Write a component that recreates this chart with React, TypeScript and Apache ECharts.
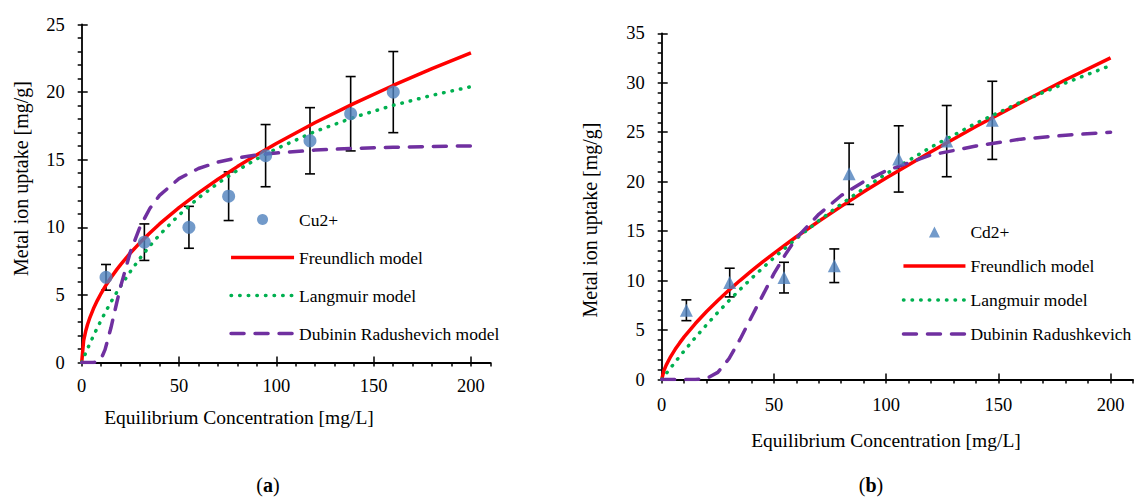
import React, { useEffect, useRef } from "react";
import * as echarts from "echarts";

// ---------- Data (a) Cu2+ ----------
const cuX = [12.5, 32.2, 55.1, 75.5, 94.5, 117.3, 138.2, 160.1];
const cuY = [6.3, 8.9, 10.0, 12.3, 15.3, 16.4, 18.4, 20.0];
const cuErr = [0.95, 1.35, 1.55, 1.8, 2.3, 2.45, 2.75, 3.0];

const cuModelX = [0, 1, 2, 3, 4, 6, 8, 10, 12, 15, 18, 20, 25, 30, 35, 40, 50, 60, 70, 80, 90, 100, 120, 140, 160, 180, 200];
const cuFreundlich = [0, 1.62, 2.29, 2.81, 3.24, 3.97, 4.58, 5.12, 5.61, 6.27, 6.87, 7.24, 8.1, 8.87, 9.58, 10.25, 11.46, 12.55, 13.55, 14.49, 15.37, 16.2, 17.75, 19.17, 20.49, 21.73, 22.91];
const cuLangmuir = [0, 0.35, 0.69, 1.02, 1.34, 1.97, 2.56, 3.13, 3.68, 4.46, 5.19, 5.65, 6.73, 7.72, 8.62, 9.44, 10.91, 12.17, 13.26, 14.21, 15.06, 15.81, 17.09, 18.14, 19.02, 19.76, 20.4];
const cuDR = [0, 0, 0, 0, 0, 0, 0.03, 0.29, 0.95, 2.55, 4.42, 5.62, 8.18, 10.04, 11.39, 12.36, 13.6, 14.35, 14.82, 15.13, 15.35, 15.5, 15.71, 15.84, 15.92, 15.98, 16.02];

// ---------- Data (b) Cd2+ ----------
const cdX = [11, 30.3, 54.5, 76.9, 83.5, 105.6, 127, 147.3];
const cdY = [7.0, 9.8, 10.3, 11.5, 20.8, 22.3, 24.1, 26.2];
const cdErr = [1.05, 1.45, 1.55, 1.7, 3.1, 3.35, 3.6, 3.95];

const cdModelX = [0, 1, 2, 4, 6, 8, 10, 15, 20, 25, 30, 35, 40, 45, 50, 55, 60, 70, 80, 90, 100, 120, 140, 160, 180, 200];
const cdFreundlich = [0, 0.91, 1.45, 2.32, 3.05, 3.7, 4.31, 5.66, 6.88, 7.99, 9.04, 10.03, 10.98, 11.88, 12.76, 13.6, 14.43, 16.0, 17.5, 18.97, 20.37, 23.03, 25.57, 27.98, 30.3, 32.52];
const cdLangmuir = [0, 0.3, 0.6, 1.18, 1.76, 2.33, 2.89, 4.24, 5.53, 6.78, 7.97, 9.12, 10.22, 11.28, 12.31, 13.29, 14.24, 16.05, 17.74, 19.31, 20.79, 23.49, 25.9, 28.05, 29.98, 31.74];
const cdDR = [0, 0, 0, 0, 0, 0, 0, 0, 0.1, 0.72, 2.11, 4.1, 6.32, 8.5, 10.7, 12.6, 14.3, 16.7, 18.6, 20.0, 21.1, 22.7, 23.6, 24.3, 24.7, 25.0];

// ---------- Tick labels ----------
const xTicks = [0, 50, 100, 150, 200];
const yTicksA = [0, 5, 10, 15, 20, 25];
const yTicksB = [0, 5, 10, 15, 20, 25, 30, 35];

const FONT = "'Liberation Serif', 'Times New Roman', serif";
const BLUE = "#4F81BD";
const RED = "#FF0000";
const GREEN = "#00B050";
const PURPLE = "#7030A0";

const zip = (xs: number[], ys: number[]) => xs.map((x, i) => [x, ys[i]]);
const zip3 = (xs: number[], ys: number[], es: number[]) => xs.map((x, i) => [x, ys[i], es[i]]);

function errorRender(params: any, api: any) {
  const x = api.value(0);
  const y = api.value(1);
  const e = api.value(2);
  const top = api.coord([x, y + e]);
  const bot = api.coord([x, y - e]);
  const w = 5;
  const st = { stroke: "#000", lineWidth: 1.6 };
  return {
    type: "group",
    children: [
      { type: "line", shape: { x1: top[0], y1: top[1], x2: bot[0], y2: bot[1] }, style: st },
      { type: "line", shape: { x1: top[0] - w, y1: top[1], x2: top[0] + w, y2: top[1] }, style: st },
      { type: "line", shape: { x1: bot[0] - w, y1: bot[1], x2: bot[0] + w, y2: bot[1] }, style: st },
    ],
  };
}

const tickStyle = { color: "#000", width: 1.5 };
const labelStyle = { color: "#000", fontFamily: FONT, fontSize: 18.5 };

function xAxesFor(grid: number) {
  return [
    {
      type: "value",
      gridIndex: grid,
      min: 0,
      max: 210,
      interval: 10,
      position: "bottom",
      axisLine: { show: true, onZero: false, lineStyle: { color: "#000", width: 1.8 } },
      axisTick: { show: true, inside: false, length: 4, lineStyle: tickStyle },
      axisLabel: {
        ...labelStyle,
        margin: grid === 0 ? 14 : 16,
        formatter: (v: number) => (xTicks.indexOf(v) >= 0 ? String(v) : ""),
      },
      splitLine: { show: false },
    },
    {
      type: "value",
      gridIndex: grid,
      min: 0,
      max: 210,
      position: "bottom",
      axisLine: { show: false, onZero: false },
      axisTick: { show: true, inside: true, length: 6, customValues: xTicks, lineStyle: tickStyle },
      axisLabel: { show: false },
      splitLine: { show: false },
    },
  ];
}

function yAxesFor(grid: number, max: number, ticks: number[]) {
  return [
    {
      type: "value",
      gridIndex: grid,
      min: 0,
      max,
      interval: 1,
      position: "left",
      axisLine: { show: true, onZero: false, lineStyle: { color: "#000", width: 1.8 } },
      axisTick: { show: true, inside: false, length: 4, lineStyle: tickStyle },
      axisLabel: {
        ...labelStyle,
        margin: 17,
        formatter: (v: number) => (ticks.indexOf(v) >= 0 ? String(v) : ""),
      },
      splitLine: { show: false },
    },
    {
      type: "value",
      gridIndex: grid,
      min: 0,
      max,
      interval: 5,
      position: "left",
      axisLine: { show: false, onZero: false },
      axisTick: { show: true, inside: true, length: 6, lineStyle: tickStyle },
      axisLabel: { show: false },
      splitLine: { show: false },
    },
  ];
}

function modelSeries(name: string, xs: number[], ys: number[], color: string, type: any, xi: number) {
  return {
    type: "line",
    name,
    xAxisIndex: xi,
    yAxisIndex: xi,
    data: zip(xs, ys),
    symbol: "none",
    smooth: false,
    z: 3,
    itemStyle: { color },
    lineStyle: { color, width: 3.5, type, cap: type === "solid" ? "butt" : "round" },
  };
}

const DOT = [0.5, 8.1];
const DASH = [13, 11];

// legend line item: hide the symbol ECharts puts in the middle
const lineItem = (name: string) => ({ name, itemStyle: { opacity: 0 } });
// triangle centred in a 62x11 box (keeps its proportions)
const TRI_ICON = "path://M0,11L0,11Z M25.5,11L31,0L36.5,11Z M62,0L62,0Z";

export default function App() {
  const ref = useRef<HTMLDivElement>(null);
  useEffect(() => {
    if (!ref.current) return;
    const chart = echarts.init(ref.current, undefined, { renderer: "svg" });
    const legendText = { fontFamily: FONT, fontSize: 17.5, color: "#000" };
    const option: any = {
      animation: false,
      backgroundColor: "#fff",
      grid: [
        { left: 81.7, top: 24.5, width: 408.7, height: 338 },
        { left: 661.7, top: 33.3, width: 477, height: 346.2 },
      ],
      xAxis: [...xAxesFor(0), ...xAxesFor(1)],
      yAxis: [...yAxesFor(0, 25, yTicksA), ...yAxesFor(1, 35, yTicksB)],
      legend: [
        {
          orient: "vertical",
          left: 229.3,
          top: 210.5,
          itemWidth: 63,
          itemHeight: 11,
          itemGap: 20,
          padding: 0,
          selectedMode: false,
          textStyle: legendText,
          lineStyle: { width: 3.5 },
          data: [
            { name: "Cu2+", icon: "circle" },
            lineItem("Freundlich model"),
            lineItem("Langmuir model"),
            lineItem("Dubinin Radushevich model"),
          ],
        },
        {
          orient: "vertical",
          left: 901.7,
          top: 223,
          itemWidth: 62,
          itemHeight: 11,
          itemGap: 16,
          padding: 0,
          selectedMode: false,
          textStyle: legendText,
          lineStyle: { width: 3.5 },
          data: [
            { name: "Cd2+", icon: TRI_ICON },
            lineItem("Freundlich model"),
            lineItem("Langmuir model"),
            lineItem("Dubinin Radushkevich"),
          ],
        },
      ],
      graphic: [
        {
          type: "text",
          x: 20.5,
          y: 178.5,
          rotation: Math.PI / 2,
          style: { text: "Metal ion uptake [mg/g]", fontFamily: FONT, fontSize: 20, fill: "#000", align: "center", verticalAlign: "middle" },
        },
        {
          type: "text",
          x: 590,
          y: 220,
          rotation: Math.PI / 2,
          style: { text: "Metal ion uptake [mg/g]", fontFamily: FONT, fontSize: 20, fill: "#000", align: "center", verticalAlign: "middle" },
        },
        {
          type: "text",
          x: 239,
          y: 417,
          style: { text: "Equilibrium Concentration [mg/L]", fontFamily: FONT, fontSize: 19.5, fill: "#000", align: "center", verticalAlign: "middle" },
        },
        {
          type: "text",
          x: 886,
          y: 440,
          style: { text: "Equilibrium Concentration [mg/L]", fontFamily: FONT, fontSize: 19.5, fill: "#000", align: "center", verticalAlign: "middle" },
        },
        {
          type: "text",
          x: 268,
          y: 485,
          style: {
            text: "({b|a})",
            fontFamily: FONT,
            fontSize: 20,
            fill: "#000",
            align: "center",
            verticalAlign: "middle",
            rich: { b: { fontFamily: FONT, fontSize: 20, fontWeight: "bold", fill: "#000" } },
          },
        },
        {
          type: "text",
          x: 871,
          y: 485,
          style: {
            text: "({b|b})",
            fontFamily: FONT,
            fontSize: 20,
            fill: "#000",
            align: "center",
            verticalAlign: "middle",
            rich: { b: { fontFamily: FONT, fontSize: 20, fontWeight: "bold", fill: "#000" } },
          },
        },
      ],
      series: [
        // chart (a)
        {
          type: "custom",
          name: "Cu2+ error",
          xAxisIndex: 0,
          yAxisIndex: 0,
          data: zip3(cuX, cuY, cuErr),
          renderItem: errorRender,
          encode: { x: 0, y: 1 },
          z: 2,
        },
        modelSeries("Freundlich model", cuModelX, cuFreundlich, RED, "solid", 0),
        modelSeries("Langmuir model", cuModelX, cuLangmuir, GREEN, DOT, 0),
        modelSeries("Dubinin Radushevich model", cuModelX, cuDR, PURPLE, DASH, 0),
        {
          type: "scatter",
          name: "Cu2+",
          xAxisIndex: 0,
          yAxisIndex: 0,
          data: zip(cuX, cuY),
          symbol: "circle",
          symbolSize: 13,
          itemStyle: { color: BLUE },
          z: 5,
        },
        // chart (b)
        {
          type: "custom",
          name: "Cd2+ error",
          xAxisIndex: 2,
          yAxisIndex: 2,
          data: zip3(cdX, cdY, cdErr),
          renderItem: errorRender,
          encode: { x: 0, y: 1 },
          z: 2,
        },
        modelSeries("Freundlich model", cdModelX, cdFreundlich, RED, "solid", 2),
        modelSeries("Langmuir model", cdModelX, cdLangmuir, GREEN, DOT, 2),
        modelSeries("Dubinin Radushkevich", cdModelX, cdDR, PURPLE, DASH, 2),
        {
          type: "scatter",
          name: "Cd2+",
          xAxisIndex: 2,
          yAxisIndex: 2,
          data: zip(cdX, cdY),
          symbol: "triangle",
          symbolSize: 13,
          itemStyle: { color: BLUE },
          z: 5,
        },
      ],
    };
    chart.setOption(option);
    return () => chart.dispose();
  }, []);
  return (
    <div
      ref={ref}
      style={{ position: "absolute", left: 0, top: 0, width: 1136, height: 498, background: "#fff" }}
    />
  );
}
